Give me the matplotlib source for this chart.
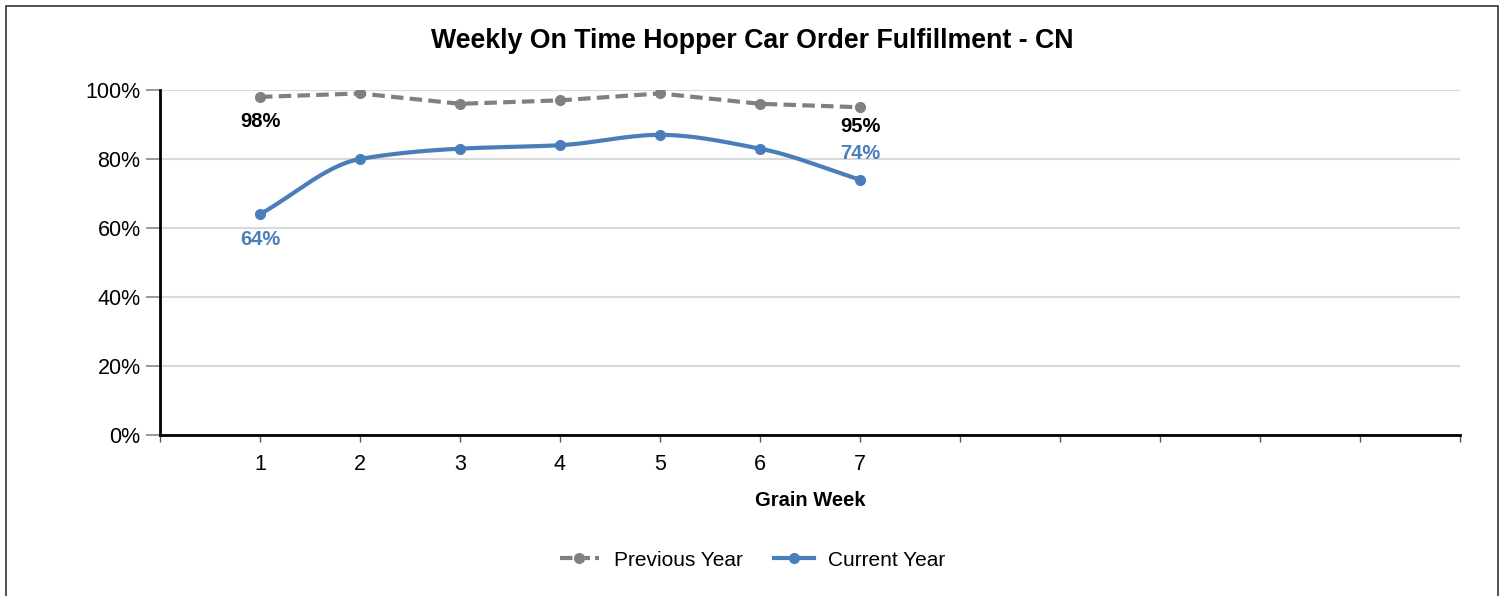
import numpy as np
import matplotlib
matplotlib.use("Agg")
from matplotlib import pyplot as plt
from matplotlib.patches import Rectangle

weeks = [1, 2, 3, 4, 5, 6, 7]
previous_year = [98, 99, 96, 97, 99, 96, 95]
current_year = [64, 80, 83, 84, 87, 83, 74]
y_ticks = [0, 20, 40, 60, 80, 100]

plt.rcParams['font.family'] = ['Liberation Sans', 'DejaVu Sans']

GREY = '#808080'
BLUE = '#4a7ebb'


def smooth(x, y, n=30):
    # monotone cubic (Fritsch-Carlson) just for drawing the curved line
    x = np.asarray(x, float)
    y = np.asarray(y, float)
    h = np.diff(x)
    d = np.diff(y) / h
    m = np.zeros_like(y)
    m[0], m[-1] = d[0], d[-1]
    for i in range(1, len(y) - 1):
        if d[i - 1] * d[i] > 0:
            m[i] = 2 / (1 / d[i - 1] + 1 / d[i])
    xs, ys = [], []
    for i in range(len(x) - 1):
        t = np.linspace(0, 1, n)
        h00 = 2 * t**3 - 3 * t**2 + 1
        h10 = t**3 - 2 * t**2 + t
        h01 = -2 * t**3 + 3 * t**2
        h11 = t**3 - t**2
        xs.append(x[i] + t * h[i])
        ys.append(h00 * y[i] + h10 * h[i] * m[i] + h01 * y[i + 1] + h11 * h[i] * m[i + 1])
    return np.concatenate(xs), np.concatenate(ys)


fig = plt.figure(figsize=(15.05, 5.96), dpi=100)
fig.patches.append(Rectangle((6 / 1505, -0.01), 1492 / 1505, 1 - 6 / 596 + 0.01,
                             transform=fig.transFigure, fill=False,
                             edgecolor='#333333', linewidth=1.2))
ax = fig.add_axes([160 / 1505, 1 - 435 / 596, 1300 / 1505, 345 / 596])

ax.plot(weeks, previous_year, color=GREY, linestyle=(0, (3, 1.5)), linewidth=3,
        zorder=3)
ax.plot(weeks, previous_year, 'o', color=GREY, markersize=7, zorder=4)
sx, sy = smooth(weeks, current_year)
ax.plot(sx, sy, color=BLUE, linewidth=3, zorder=3)
ax.plot(weeks, current_year, 'o', color=BLUE, markersize=7, zorder=4)

# legend handles
ax.plot([], [], color=GREY, linestyle=(0, (3, 1.2)), linewidth=3, marker='o',
        markersize=7, label='Previous Year')
ax.plot([], [], color=BLUE, linewidth=3, marker='o', markersize=7,
        label='Current Year')

# data labels
lab = dict(fontsize=14.5, fontweight='bold', ha='center')
ax.annotate(f'{previous_year[0]}%', (weeks[0], previous_year[0]),
            xytext=(0, -18), textcoords='offset points', va='center', **lab)
ax.annotate(f'{previous_year[-1]}%', (weeks[-1], previous_year[-1]),
            xytext=(0, -14), textcoords='offset points', va='center', **lab)
ax.annotate(f'{current_year[0]}%', (weeks[0], current_year[0]),
            xytext=(0, -18), textcoords='offset points', va='center',
            color=BLUE, **lab)
ax.annotate(f'{current_year[-1]}%', (weeks[-1], current_year[-1]),
            xytext=(0, 19), textcoords='offset points', va='center',
            color=BLUE, **lab)

ax.set_xlim(0, 13)
ax.set_ylim(0, 100)
ax.set_xticks(range(0, 14))
ax.set_xticklabels([str(i) if i in weeks else '' for i in range(0, 14)],
                   fontsize=15.5)
ax.set_yticks(y_ticks)
ax.set_yticklabels([f'{v}%' for v in y_ticks], fontsize=15.5)
ax.tick_params(axis='x', length=5, width=1, color='#555555', pad=9)
ax.tick_params(axis='y', length=10, width=1.2, color='#888888', pad=4)
ax.grid(axis='y', color='#d9d9d9', linewidth=1.5)
ax.set_axisbelow(True)
for s in ['top', 'right']:
    ax.spines[s].set_visible(False)
for s in ['left', 'bottom']:
    ax.spines[s].set_linewidth(2)
    ax.spines[s].set_color('black')

ax.set_xlabel('Grain Week', fontsize=14.5, fontweight='bold', labelpad=11)
fig.text(0.5, 1 - 41 / 596, 'Weekly On Time Hopper Car Order Fulfillment - CN',
         ha='center', va='center', fontsize=19.3, fontweight='bold')
fig.legend(loc='center', bbox_to_anchor=(0.5, 1 - 560 / 596), ncol=2,
           frameon=False, fontsize=15, handlelength=1.9, handletextpad=0.7,
           columnspacing=1.5)

fig.savefig('out.png', dpi=100)
